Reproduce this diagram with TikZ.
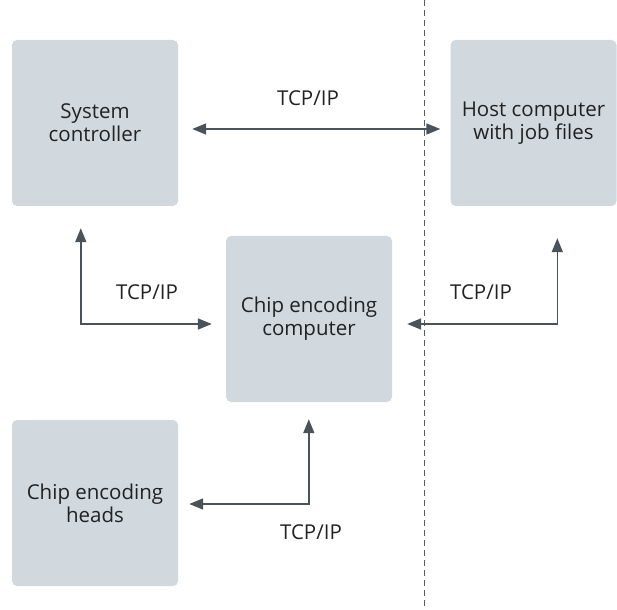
\documentclass[tikz,border=0pt]{standalone}
\usepackage{fontspec}
\setmainfont{Open Sans}
\usetikzlibrary{arrows.meta,calc}
\definecolor{boxfill}{HTML}{D1D9DF}
\definecolor{arrowc}{HTML}{4A535A}
\definecolor{txt}{HTML}{222222}
\definecolor{dashc}{HTML}{555B60}
\tikzset{
  box/.style={fill=boxfill, rounded corners=5pt, minimum width=166pt, minimum height=166pt, align=center, font=\fontsize{20.5}{23}\selectfont, text=txt, inner sep=0pt},
  arr/.style={draw=arrowc, line width=1.6pt, {Triangle[length=14pt,width=11pt]}-{Triangle[length=14pt,width=11pt]}},
  lbl/.style={font=\fontsize{20.5}{23}\selectfont, text=txt, inner sep=0pt},
}
\begin{document}
\begin{tikzpicture}[x=1pt,y=-1pt]
\useasboundingbox (0,0) rectangle (617,609);
\draw[dashc, line width=1pt, dash pattern=on 6pt off 4pt] (424,0) coordinate (dtop) -- (424,609) coordinate (dbot);
\node[box] (sc) at (95,123) {System\\controller};
\node[box] (host) at (533.5,123) {Host computer\\with job files};
\node[box] (cc) at (309,319) {Chip encoding\\computer};
\node[box] (hd) at (95,503) {Chip encoding\\heads};
\draw[arr] ($(sc.east)+(14,6)$) -- ($(host.west)+(-10,6)$);
\draw[arr] ($(sc.south west)+(69,22)$) |- ($(cc.west)+(-14,5)$);
\draw[arr] ($(host.south west)+(107,32)$) |- ($(cc.east)+(15,5)$);
\draw[arr] ($(cc.south west)+(83,17)$) |- ($(hd.east)+(11,1)$);
\node[lbl] (l1) at (308,98) {TCP/IP};
\node[lbl] (l2) at (147,292) {TCP/IP};
\node[lbl] (l3) at (481,292) {TCP/IP};
\node[lbl] (l4) at (311,532) {TCP/IP};
\end{tikzpicture}
\end{document}
